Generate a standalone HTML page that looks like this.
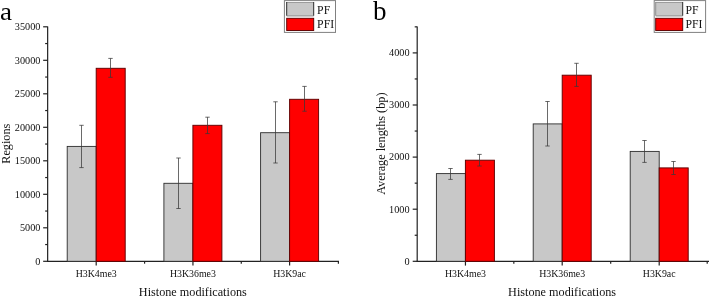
<!DOCTYPE html>
<html><head><meta charset="utf-8"><title>Histone modifications</title>
<style>
html,body{margin:0;padding:0;background:#fff;}
body{width:709px;height:297px;overflow:hidden;}
svg{display:block;font-family:"Liberation Serif", serif;}
.ax{stroke:#222;stroke-width:1.2;fill:none;}
.eb{stroke:#383838;stroke-width:0.75;fill:none;}
.gb{fill:#c8c8c8;stroke:#2c2c2c;stroke-width:0.9;}
.rb{fill:#ff0000;stroke:#600000;stroke-width:0.95;}
.lg{fill:#fff;stroke:#808080;stroke-width:1;}
.tl{font-size:10.25px;fill:#111;}
.xl{font-size:9.85px;}
.at{font-size:12.2px;fill:#111;}
.yt{font-size:12px;fill:#111;}
.lt{font-size:12.5px;fill:#111;}
.pl{font-size:27px;fill:#000;}
</style></head><body>
<svg width="709" height="297" viewBox="0 0 709 297">
<rect width="709" height="297" fill="#fff"/>
<line x1="47.65" y1="26.6" x2="47.65" y2="261.8" class="ax"/>
<line x1="47.15" y1="261.3" x2="339.0" y2="261.3" class="ax"/>
<line x1="43.15" y1="261.3" x2="47.65" y2="261.3" class="ax"/>
<text x="40.449999999999996" y="264.6" class="tl" text-anchor="end">0</text>
<line x1="43.15" y1="227.8" x2="47.65" y2="227.8" class="ax"/>
<text x="40.449999999999996" y="231.10000000000002" class="tl" text-anchor="end">5000</text>
<line x1="43.15" y1="194.3" x2="47.65" y2="194.3" class="ax"/>
<text x="40.449999999999996" y="197.60000000000002" class="tl" text-anchor="end">10000</text>
<line x1="43.15" y1="160.8" x2="47.65" y2="160.8" class="ax"/>
<text x="40.449999999999996" y="164.10000000000002" class="tl" text-anchor="end">15000</text>
<line x1="43.15" y1="127.30000000000001" x2="47.65" y2="127.30000000000001" class="ax"/>
<text x="40.449999999999996" y="130.60000000000002" class="tl" text-anchor="end">20000</text>
<line x1="43.15" y1="93.80000000000001" x2="47.65" y2="93.80000000000001" class="ax"/>
<text x="40.449999999999996" y="97.10000000000001" class="tl" text-anchor="end">25000</text>
<line x1="43.15" y1="60.30000000000001" x2="47.65" y2="60.30000000000001" class="ax"/>
<text x="40.449999999999996" y="63.60000000000001" class="tl" text-anchor="end">30000</text>
<line x1="43.15" y1="26.80000000000001" x2="47.65" y2="26.80000000000001" class="ax"/>
<text x="40.449999999999996" y="30.100000000000012" class="tl" text-anchor="end">35000</text>
<line x1="45.15" y1="244.55" x2="47.65" y2="244.55" class="ax"/>
<line x1="45.15" y1="211.05" x2="47.65" y2="211.05" class="ax"/>
<line x1="45.15" y1="177.55" x2="47.65" y2="177.55" class="ax"/>
<line x1="45.15" y1="144.05" x2="47.65" y2="144.05" class="ax"/>
<line x1="45.15" y1="110.55000000000001" x2="47.65" y2="110.55000000000001" class="ax"/>
<line x1="45.15" y1="77.05000000000001" x2="47.65" y2="77.05000000000001" class="ax"/>
<line x1="45.15" y1="43.55000000000001" x2="47.65" y2="43.55000000000001" class="ax"/>
<line x1="96.2" y1="261.3" x2="96.2" y2="265.6" class="ax"/>
<text x="96.2" y="276.90000000000003" class="tl xl" text-anchor="middle">H3K4me3</text>
<line x1="192.95" y1="261.3" x2="192.95" y2="265.6" class="ax"/>
<text x="192.95" y="276.90000000000003" class="tl xl" text-anchor="middle">H3K36me3</text>
<line x1="289.6" y1="261.3" x2="289.6" y2="265.6" class="ax"/>
<text x="289.6" y="276.90000000000003" class="tl xl" text-anchor="middle">H3K9ac</text>
<line x1="144.575" y1="261.3" x2="144.575" y2="263.7" class="ax"/>
<line x1="241.275" y1="261.3" x2="241.275" y2="263.7" class="ax"/>
<line x1="338.4" y1="261.3" x2="338.4" y2="263.7" class="ax"/>
<rect x="67.2" y="146.4" width="29.0" height="114.9" class="gb"/>
<path d="M81.5 125.3V167.6M79.3 125.3h4.4M79.3 167.6h4.4" class="eb"/>
<rect x="96.2" y="68.3" width="29.0" height="193.0" class="rb"/>
<path d="M110.5 58.4V77.3M108.3 58.4h4.4M108.3 77.3h4.4" class="eb"/>
<rect x="163.9" y="183.3" width="29.0" height="78.0" class="gb"/>
<path d="M178.5 158.0V208.5M176.3 158.0h4.4M176.3 208.5h4.4" class="eb"/>
<rect x="192.9" y="125.3" width="29.0" height="136.0" class="rb"/>
<path d="M207.5 117.2V133.6M205.3 117.2h4.4M205.3 133.6h4.4" class="eb"/>
<rect x="260.6" y="132.7" width="29.0" height="128.6" class="gb"/>
<path d="M275.5 101.8V163.0M273.3 101.8h4.4M273.3 163.0h4.4" class="eb"/>
<rect x="289.6" y="99.3" width="29.0" height="162.0" class="rb"/>
<path d="M304.5 86.4V111.2M302.3 86.4h4.4M302.3 111.2h4.4" class="eb"/>
<text x="192.85" y="296.1" class="at" text-anchor="middle">Histone modifications</text>
<text transform="translate(10.3,143.7) rotate(-90) scale(1.015,1.12)" class="yt" text-anchor="middle">Regions</text>
<rect x="284.4" y="0.6" width="51.1" height="31.8" class="lg"/>
<rect x="286.7" y="2.4" width="27.0" height="13.6" fill="#c8c8c8"/>
<path d="M286.7 2.5H313.7M286.7 15.9H313.7" stroke="#9c9c9c" stroke-width="1.2" fill="none"/>
<path d="M286.7 2V15.7M313.7 2V15.7" stroke="#2c2c2c" stroke-width="1" fill="none"/>
<rect x="286.7" y="18.3" width="27.0" height="12.2" class="rb"/>
<text transform="translate(317.09999999999997,13.5) scale(0.94,1.04)" class="lt">PF</text>
<text transform="translate(317.09999999999997,28.4) scale(0.94,1.04)" class="lt">PFI</text>
<line x1="417.2" y1="26.6" x2="417.2" y2="261.8" class="ax"/>
<line x1="416.7" y1="261.3" x2="709" y2="261.3" class="ax"/>
<line x1="412.7" y1="261.3" x2="417.2" y2="261.3" class="ax"/>
<text x="409.59999999999997" y="264.6" class="tl" text-anchor="end">0</text>
<line x1="412.7" y1="209.20000000000002" x2="417.2" y2="209.20000000000002" class="ax"/>
<text x="409.59999999999997" y="212.50000000000003" class="tl" text-anchor="end">1000</text>
<line x1="412.7" y1="157.10000000000002" x2="417.2" y2="157.10000000000002" class="ax"/>
<text x="409.59999999999997" y="160.40000000000003" class="tl" text-anchor="end">2000</text>
<line x1="412.7" y1="105.0" x2="417.2" y2="105.0" class="ax"/>
<text x="409.59999999999997" y="108.3" class="tl" text-anchor="end">3000</text>
<line x1="412.7" y1="52.900000000000006" x2="417.2" y2="52.900000000000006" class="ax"/>
<text x="409.59999999999997" y="56.2" class="tl" text-anchor="end">4000</text>
<line x1="414.7" y1="235.25" x2="417.2" y2="235.25" class="ax"/>
<line x1="414.7" y1="183.15" x2="417.2" y2="183.15" class="ax"/>
<line x1="414.7" y1="131.05" x2="417.2" y2="131.05" class="ax"/>
<line x1="414.7" y1="78.95000000000002" x2="417.2" y2="78.95000000000002" class="ax"/>
<line x1="414.7" y1="26.849999999999994" x2="417.2" y2="26.849999999999994" class="ax"/>
<line x1="465.45" y1="261.3" x2="465.45" y2="265.6" class="ax"/>
<text x="465.45" y="276.90000000000003" class="tl xl" text-anchor="middle">H3K4me3</text>
<line x1="562.2" y1="261.3" x2="562.2" y2="265.6" class="ax"/>
<text x="562.2" y="276.90000000000003" class="tl xl" text-anchor="middle">H3K36me3</text>
<line x1="659.2" y1="261.3" x2="659.2" y2="265.6" class="ax"/>
<text x="659.2" y="276.90000000000003" class="tl xl" text-anchor="middle">H3K9ac</text>
<line x1="513.825" y1="261.3" x2="513.825" y2="263.7" class="ax"/>
<line x1="610.7" y1="261.3" x2="610.7" y2="263.7" class="ax"/>
<line x1="707.2" y1="261.3" x2="707.2" y2="263.7" class="ax"/>
<rect x="436.4" y="173.6" width="29.0" height="87.7" class="gb"/>
<path d="M450.5 168.5V179.4M448.3 168.5h4.4M448.3 179.4h4.4" class="eb"/>
<rect x="465.4" y="160.2" width="29.0" height="101.1" class="rb"/>
<path d="M479.5 154.4V166.0M477.3 154.4h4.4M477.3 166.0h4.4" class="eb"/>
<rect x="533.2" y="123.9" width="29.0" height="137.4" class="gb"/>
<path d="M547.5 101.5V146.0M545.3 101.5h4.4M545.3 146.0h4.4" class="eb"/>
<rect x="562.2" y="75.2" width="29.0" height="186.1" class="rb"/>
<path d="M576.5 63.3V86.4M574.3 63.3h4.4M574.3 86.4h4.4" class="eb"/>
<rect x="630.2" y="151.4" width="29.0" height="109.9" class="gb"/>
<path d="M644.5 140.5V162.4M642.3 140.5h4.4M642.3 162.4h4.4" class="eb"/>
<rect x="659.2" y="167.9" width="29.0" height="93.4" class="rb"/>
<path d="M673.5 161.5V174.5M671.3 161.5h4.4M671.3 174.5h4.4" class="eb"/>
<text x="562.1" y="296.1" class="at" text-anchor="middle">Histone modifications</text>
<text transform="translate(385.2,143.7) rotate(-90) scale(1.02,1.08)" class="yt" text-anchor="middle">Average lengths (bp)</text>
<rect x="654.2" y="0.6" width="51.4" height="31.8" class="lg"/>
<rect x="655.7" y="2.4" width="27.0" height="13.6" fill="#c8c8c8"/>
<path d="M655.7 2.5H682.7M655.7 15.9H682.7" stroke="#9c9c9c" stroke-width="1.2" fill="none"/>
<path d="M655.7 2V15.7" stroke="#8c8c8c" stroke-width="1" fill="none"/>
<path d="M682.7 2V15.7" stroke="#2c2c2c" stroke-width="1" fill="none"/>
<rect x="655.7" y="18.3" width="27.0" height="12.2" class="rb"/>
<text transform="translate(685.5000000000001,13.5) scale(0.94,1.04)" class="lt">PF</text>
<text transform="translate(685.5000000000001,28.4) scale(0.94,1.04)" class="lt">PFI</text>
<text transform="translate(0,20) scale(1,0.91)" class="pl">a</text>
<text x="373.1" y="20.1" class="pl">b</text>
</svg>
</body></html>
